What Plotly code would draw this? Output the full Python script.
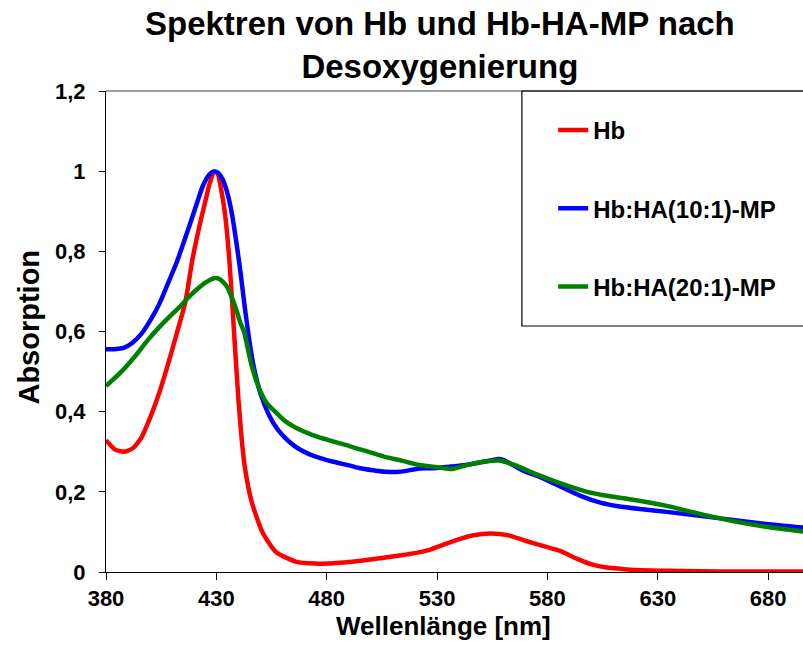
import plotly.graph_objects as go

# Absorption spectra after deoxygenation (wavelength in nm, absorbance)
wl_hb = [380, 384, 388, 392, 396, 400, 404, 408, 412, 416, 419, 422, 425, 427, 429,
         430.5, 432, 434, 436, 438, 440, 441.5, 443, 446, 451, 457, 466, 475, 483,
         490, 498, 505, 513, 520, 527, 533, 539, 546, 554, 562, 570, 578, 586, 593,
         600, 607, 613, 620, 634, 650, 665, 680, 696]
abs_hb = [0.329, 0.306, 0.300, 0.308, 0.335, 0.385, 0.445, 0.517, 0.594, 0.675,
          0.775, 0.855, 0.925, 0.970, 0.998, 0.995, 0.960, 0.890, 0.770, 0.600,
          0.430, 0.330, 0.258, 0.175, 0.098, 0.050, 0.026, 0.021, 0.022, 0.025,
          0.030, 0.035, 0.041, 0.047, 0.056, 0.068, 0.080, 0.091, 0.096, 0.092,
          0.078, 0.065, 0.052, 0.034, 0.019, 0.011, 0.008, 0.005, 0.003, 0.002,
          0.001, 0.001, 0.001]

wl_ha10 = [380, 384, 388, 392, 396, 400, 404, 408, 412, 416, 420, 424, 427, 429,
           431, 433, 435, 437, 439, 441, 443, 445, 447, 450, 454, 458, 463, 468,
           475, 483, 490, 495, 501, 507, 513, 522, 528, 536, 543, 551, 555, 558,
           560, 563, 569, 577, 586, 595, 604, 612, 622, 634, 649, 664, 679, 696]
abs_ha10 = [0.556, 0.556, 0.559, 0.572, 0.594, 0.627, 0.667, 0.719, 0.772, 0.835,
            0.900, 0.965, 0.993, 1.000, 0.995, 0.978, 0.945, 0.895, 0.825, 0.745,
            0.655, 0.575, 0.510, 0.445, 0.390, 0.354, 0.325, 0.305, 0.288, 0.275,
            0.266, 0.259, 0.254, 0.250, 0.250, 0.258, 0.259, 0.263, 0.267, 0.275,
            0.279, 0.282, 0.280, 0.271, 0.253, 0.236, 0.213, 0.190, 0.173, 0.164,
            0.157, 0.150, 0.140, 0.130, 0.120, 0.111]

wl_ha20 = [380, 387, 393, 399, 405, 411, 414, 417, 421, 425, 429, 431, 433, 435,
           437, 439, 441, 442.5, 446, 450, 453, 457, 461, 466, 476, 491, 506, 514,
           522, 531, 537, 543, 551, 558, 565, 574, 586, 598, 607, 618, 634, 649,
           664, 679, 696]
abs_ha20 = [0.464, 0.500, 0.537, 0.579, 0.616, 0.649, 0.665, 0.683, 0.704, 0.722,
            0.733, 0.732, 0.724, 0.710, 0.685, 0.655, 0.620, 0.600, 0.515, 0.450,
            0.420, 0.398, 0.377, 0.360, 0.337, 0.313, 0.288, 0.278, 0.267, 0.261,
            0.257, 0.266, 0.275, 0.278, 0.267, 0.246, 0.221, 0.200, 0.190, 0.181,
            0.165, 0.145, 0.127, 0.113, 0.101]

series = [
    ("Hb", wl_hb, abs_hb, "#FF0000"),
    ("Hb:HA(10:1)-MP", wl_ha10, abs_ha10, "#0000FF"),
    ("Hb:HA(20:1)-MP", wl_ha20, abs_ha20, "#008000"),
]

x_ticks = [380, 430, 480, 530, 580, 630, 680]

FONT = "Liberation Sans"

fig = go.Figure()
for name, wl, ab, color in series:
    fig.add_trace(go.Scatter(
        x=wl, y=ab, name=name, mode="lines", legendgroup=name,
        line=dict(color=color, width=4.5, shape="spline", smoothing=0.6),
    ))

W, H = 803, 666
left, right, top, bottom = 105.5, 0, 91, 94
plot_w = W - left - right
plot_h = H - top - bottom


def px_x(px):
    """Horizontal pixel position -> paper coordinate."""
    return (px - left) / plot_w


def px_y(py):
    """Vertical pixel position (from top) -> paper coordinate."""
    return (H - bottom - py) / plot_h


fig.update_layout(
    width=W, height=H,
    margin=dict(l=left, r=right, t=top, b=bottom, pad=0),
    paper_bgcolor="white", plot_bgcolor="white",
    separators=",.",
    font=dict(family=FONT, color="black"),
    showlegend=True,
    legend=dict(
        x=0.6416, xanchor="left", y=px_y(108), yanchor="top",
        bgcolor="rgba(0,0,0,0)", borderwidth=0,
        font=dict(family=FONT, size=24, weight="bold", color="black"),
        tracegroupgap=44, itemwidth=30,
    ),
    xaxis=dict(
        range=[380, 695.8], tickvals=x_ticks, ticktext=[str(v) for v in x_ticks],
        ticks="outside", ticklen=7, tickwidth=1, tickcolor="black",
        showline=True, linecolor="black", linewidth=1,
        showgrid=False, zeroline=False,
        tickfont=dict(family=FONT, size=22, weight="bold", color="black"),
    ),
    yaxis=dict(
        range=[0, 1.2], dtick=0.2, tick0=0,
        ticks="outside", ticklen=6, tickwidth=1, tickcolor="black",
        showline=True, linecolor="black", linewidth=1,
        showgrid=False, zeroline=False, ticklabelstandoff=9,
        tickfont=dict(family=FONT, size=22, weight="bold", color="black"),
    ),
    shapes=[
        # grey frame line along the top of the plot area
        dict(type="line", xref="paper", yref="paper", x0=0, x1=1.02, y0=1, y1=1,
             line=dict(color="#808080", width=1.5)),
        # legend box
        dict(type="rect", xref="paper", yref="paper",
             x0=px_x(521.7), x1=1.05, y0=px_y(326), y1=1,
             line=dict(color="black", width=1.2), fillcolor="rgba(0,0,0,0)"),
    ],
    annotations=[
        dict(text="Spektren von Hb und Hb-HA-MP nach<br>Desoxygenierung",
             xref="paper", yref="paper", x=px_x(440), y=px_y(45),
             xanchor="center", yanchor="middle", showarrow=False,
             font=dict(family=FONT, size=33, weight="bold", color="black")),
        dict(text="Wellenlänge [nm]", xref="paper", yref="paper",
             x=px_x(443), y=px_y(626),
             xanchor="center", yanchor="middle", showarrow=False,
             font=dict(family=FONT, size=26, weight="bold", color="black")),
        dict(text="Absorption", xref="paper", yref="paper", textangle=-90,
             x=px_x(28), y=px_y(327),
             xanchor="center", yanchor="middle", showarrow=False,
             font=dict(family=FONT, size=29, weight="bold", color="black")),
    ],
)

fig.write_html("out.html")
